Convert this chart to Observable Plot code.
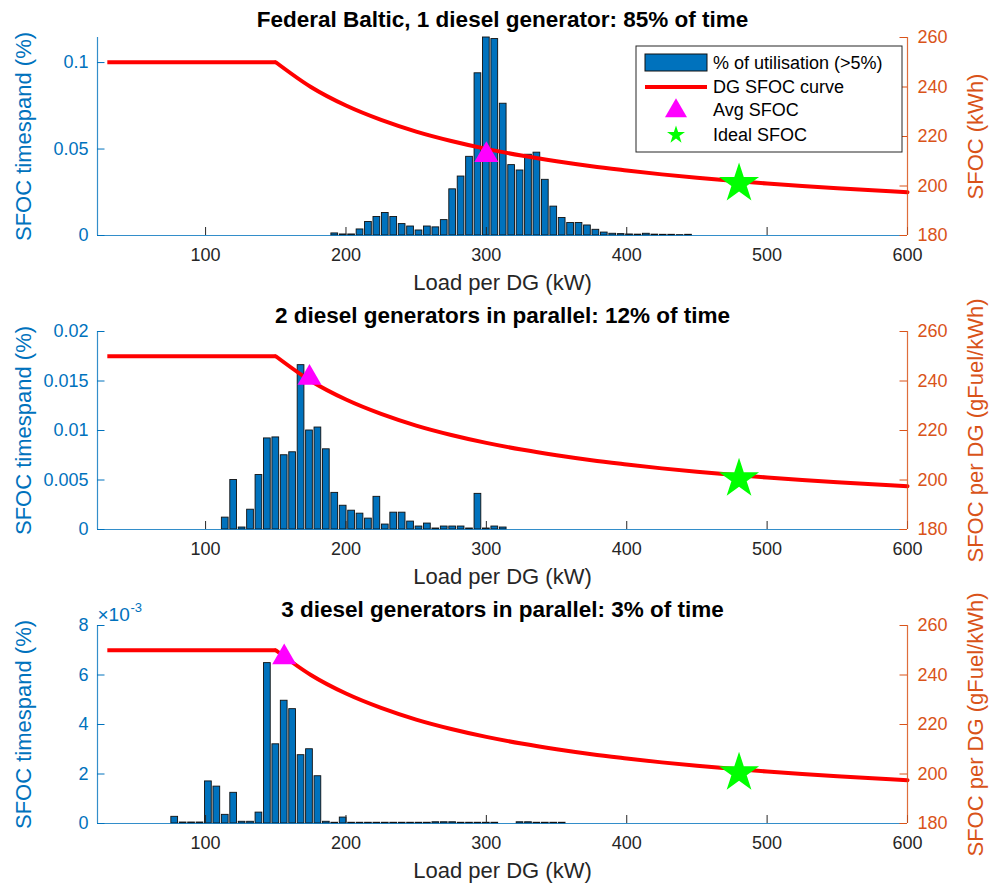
<!DOCTYPE html>
<html><head><meta charset="utf-8">
<script src="https://cdn.jsdelivr.net/npm/d3@7"></script>
<script src="https://cdn.jsdelivr.net/npm/@observablehq/plot@0.6"></script>
<style>
body{margin:0;background:#fff;font-family:"Liberation Sans",Arial,sans-serif;}
#root{position:relative;width:995px;height:886px;overflow:hidden;background:#fff}
.layer{position:absolute;left:0}
</style></head><body><div id="root"></div>
<script>
// ---------- data ----------
const titles = [
  "Federal Baltic, 1 diesel generator: 85% of time",
  "2 diesel generators in parallel: 12% of time",
  "3 diesel generators in parallel: 3% of time"
];
const rightLabels = ["SFOC (kWh)", "SFOC per DG (gFuel/kWh)", "SFOC per DG (gFuel/kWh)"];
const leftLabel = "SFOC timespand (%)";
const xLabel = "Load per DG (kW)";

const loads1 = [192,198,204,210,216,222,228,234,240,246,252,258,264,270,276,282,288,294,300,306,312,318,324,330,336,342,348,354,360,366,372,378,384,390,396,402,408,414,420,426,432,438,444];
const util1  = [0.0012,0.0006,0.0006,0.0035,0.0078,0.0107,0.0130,0.0107,0.0066,0.0052,0.0029,0.0052,0.0047,0.0089,0.0267,0.0341,0.0455,0.0938,0.1145,0.1136,0.0762,0.0407,0.0376,0.0467,0.0479,0.0322,0.0167,0.0101,0.0072,0.0072,0.0058,0.0033,0.0017,0.0010,0.0008,0.0006,0.0005,0.0010,0.0005,0.0004,0.0004,0.0002,0.0004];

const loads2 = [114,120,126,132,138,144,150,156,162,168,174,180,186,192,198,204,210,216,222,228,234,240,246,252,258,264,270,276,282,288,294,300,306,312];
const util2  = [0.0012,0.0050,0.0002,0.0020,0.0055,0.0092,0.0093,0.0075,0.0078,0.0166,0.0100,0.0103,0.0081,0.0037,0.0024,0.0019,0.0016,0.0011,0.0033,0.0005,0.0017,0.0017,0.0008,0.0003,0.0006,0.0001,0.0003,0.0003,0.0003,0.0001,0.0036,0.0001,0.0003,0.0002];

const loads3 = [78,84,90,96,102,108,114,120,126,132,138,144,150,156,162,168,174,180,186,192,198,204,210,216,222,228,234,240,246,252,258,264,270,276,282,288,294,300,306,324,330,336,342,348,354];
const util3  = [0.00027,0.00004,0.00004,0.00004,0.00170,0.00149,0.00035,0.00124,0.00007,0.00007,0.00044,0.00648,0.00320,0.00496,0.00462,0.00276,0.00300,0.00191,0.00007,0.00003,0.00024,0.00003,0.00003,0.00003,0.00003,0.00003,0.00003,0.00003,0.00003,0.00003,0.00003,0.00005,0.00005,0.00005,0.00003,0.00003,0.00003,0.00003,0.00003,0.00005,0.00005,0.00003,0.00003,0.00003,0.00003];

// SFOC curve: flat part, then declining part
const sfocFlatLoad  = [30,150];
const sfocFlat      = [250,250];
const sfocDropLoad  = [150,175,200,225,250,275,300,325,350,375,400,425,450,475,500,525,550,575,600];
const sfocDrop      = [250,240,232.5,226.7,222,218.2,215,212.3,210,208,206.3,204.7,203.3,202.1,201,200,199.1,198.3,197.5];

const avgLoad   = [300, 174, 156];
const avgSfoc   = [212.5, 241.3, 247.1];
const idealLoad = [480, 480, 480];
const idealSfoc = [201, 200.5, 200.5];

const xTicks = [100,200,300,400,500,600];
const yTicks1 = [0, 0.05, 0.1];
const yTicks2 = [0, 0.005, 0.01, 0.015, 0.02];
const yTicks3 = [0, 0.002, 0.004, 0.006, 0.008];
const rTicks = [180,200,220,240,260];
const yMax = [0.1145, 0.02, 0.008];

// ---------- layout ----------
const W = 995, H = 294, mL = 97, mR = 88, mT = 38, mB = 58;
const FW = W - mL - mR, FH = H - mT - mB;
const FONT = '"Liberation Sans", Arial, Helvetica, sans-serif';
const BLUE = "#0072BD", ORANGE = "#D95319", DARK = "#262626";
const root = document.getElementById("root");
const flat = sfocFlatLoad.map((l, i) => ({load: l, sfoc: sfocFlat[i]}));
const drop = sfocDropLoad.map((l, i) => ({load: l, sfoc: sfocDrop[i]}));

function fmt1(d){ return d === 0 ? "0" : String(+d.toFixed(4)); }

const panels = [
  {T: -1, loads: loads1, vals: util1, yt: yTicks1, tf: fmt1, titleDy: -18},
  {T: 293, loads: loads2, vals: util2, yt: yTicks2, tf: fmt1, titleDy: -16},
  {T: 587, loads: loads3, vals: util3, yt: yTicks3, tf: d => String(Math.round(d * 1000)), titleDy: -16, exp: true}
];

panels.forEach((p, k) => {
  const bars = p.loads.map((l, i) => ({load: l, pct: p.vals[i]}));
  const common = {
    width: W, height: H, marginLeft: mL, marginRight: mR, marginTop: mT, marginBottom: mB,
    style: {fontFamily: FONT, background: "transparent", overflow: "visible"}
  };
  const leftMarks = [
    Plot.rectY(bars, {x1: d => d.load - 2.4, x2: d => d.load + 2.4, y1: 0, y2: "pct",
      fill: BLUE, stroke: "#111", strokeWidth: 0.9}),
    Plot.ruleY([0], {stroke: BLUE, strokeWidth: 1.2, strokeOpacity: 0.8}),
    Plot.ruleX([23], {stroke: BLUE, strokeWidth: 1.2, strokeOpacity: 0.8}),
    Plot.ruleX(xTicks, {x: d => d, insetTop: FH - 8, stroke: DARK, strokeWidth: 1}),
    Plot.ruleY(p.yt, {y: d => d, insetRight: FW - 7.5, stroke: BLUE, strokeWidth: 1}),
    Plot.axisX(xTicks, {tickSize: 0, tickPadding: 13, fontSize: 18, color: DARK, label: null}),
    Plot.axisY(p.yt, {tickSize: 0, tickPadding: 9, fontSize: 18, color: BLUE, tickFormat: p.tf, label: null}),
    Plot.text([titles[k]], {text: d => d, frameAnchor: "top", dy: p.titleDy, textAnchor: "middle", lineAnchor: "middle",
      fontSize: 22.5, fontWeight: "bold", fill: "#000"}),
    Plot.text([xLabel], {text: d => d, frameAnchor: "bottom", dy: 47, textAnchor: "middle", lineAnchor: "middle",
      fontSize: 22, fill: DARK}),
    Plot.text([leftLabel], {text: d => d, frameAnchor: "left", dx: -74, rotate: -90, textAnchor: "middle", lineAnchor: "middle",
      fontSize: 22, fill: BLUE})
  ];
  if (p.exp) {
    leftMarks.push(Plot.text(["×10"], {text: d => d, frameAnchor: "top-left", dx: 0, dy: -5, textAnchor: "start", lineAnchor: "bottom", fontSize: 19, fill: BLUE}));
    leftMarks.push(Plot.text(["-3"], {text: d => d, frameAnchor: "top-left", dx: 33, dy: -14, textAnchor: "start", lineAnchor: "bottom", fontSize: 13, fill: BLUE}));
  }
  const left = Plot.plot({...common, x: {domain: [23, 600]}, y: {domain: [0, yMax[k]]}, marks: leftMarks});

  const right = Plot.plot({...common, x: {domain: [23, 600], axis: null}, y: {domain: [180, 260], axis: null}, marks: [
    Plot.line(flat, {x: "load", y: "sfoc", stroke: "#FF0000", strokeWidth: 4, strokeLinecap: "butt"}),
    Plot.line(drop, {x: "load", y: "sfoc", stroke: "#FF0000", strokeWidth: 4, curve: "monotone-x"}),
    Plot.ruleX([600], {stroke: ORANGE, strokeWidth: 1.2, strokeOpacity: 0.85}),
    Plot.ruleY(rTicks, {y: d => d, insetLeft: FW - 7.5, stroke: ORANGE, strokeWidth: 1}),
    Plot.axisY(rTicks, {anchor: "right", tickSize: 0, tickPadding: 10, fontSize: 18, color: ORANGE, label: null}),
    Plot.dot([{load: avgLoad[k], sfoc: avgSfoc[k]}], {x: "load", y: "sfoc", symbol: "triangle", r: 8.9, fill: "#FF00FF", stroke: "none"}),
    Plot.dot([{load: idealLoad[k], sfoc: idealSfoc[k]}], {x: "load", y: "sfoc", symbol: "star", r: 12.6, fill: "#00FF00", stroke: "none"}),
    Plot.text([rightLabels[k]], {text: d => d, frameAnchor: "right", dx: 68, rotate: -90, textAnchor: "middle", lineAnchor: "middle",
      fontSize: 22, fill: ORANGE})
  ]});

  [left, right].forEach(svg => {
    svg.classList.add("layer");
    svg.style.top = p.T + "px";
    root.appendChild(svg);
  });
});

// ---------- legend (panel 1) ----------
const lg = d3.select(root).append("svg").attr("class", "layer")
  .attr("width", 268).attr("height", 108)
  .style("left", "635px").style("top", "45px")
  .style("font-family", FONT);
lg.append("rect").attr("x", 1).attr("y", 1).attr("width", 266).attr("height", 106)
  .attr("fill", "#fff").attr("stroke", DARK).attr("stroke-width", 1);
const rows = [
  {label: "% of utilisation (>5%)", y: 18},
  {label: "DG SFOC curve", y: 42},
  {label: "Avg SFOC", y: 65},
  {label: "Ideal SFOC", y: 90}
];
lg.append("rect").attr("x", 10).attr("y", 9).attr("width", 62).attr("height", 17)
  .attr("fill", BLUE).attr("stroke", "#111").attr("stroke-width", 1);
lg.append("line").attr("x1", 10).attr("x2", 72).attr("y1", 42).attr("y2", 42)
  .attr("stroke", "#FF0000").attr("stroke-width", 4);
lg.append("path").attr("transform", "translate(41,66)")
  .attr("d", d3.symbol(d3.symbolTriangle, 210)()).attr("fill", "#FF00FF");
lg.append("path").attr("transform", "translate(41,90)")
  .attr("d", d3.symbol(d3.symbolStar, 100)()).attr("fill", "#00FF00");
lg.selectAll("text.l").data(rows).join("text")
  .attr("x", 78).attr("y", d => d.y).attr("dy", "0.35em")
  .attr("font-size", 18).attr("fill", "#000").text(d => d.label);
</script>
</body></html>
